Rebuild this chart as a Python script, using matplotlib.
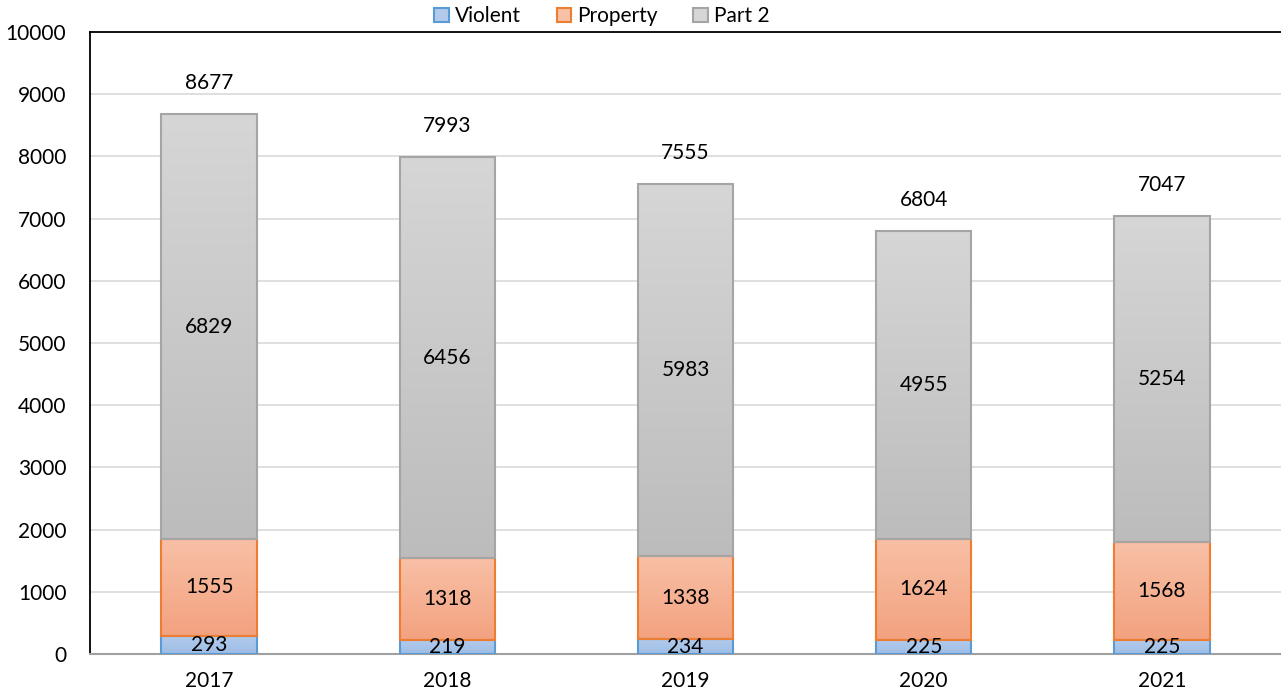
import matplotlib
matplotlib.use("Agg")
import matplotlib.pyplot as plt
import numpy as np
from matplotlib.colors import LinearSegmentedColormap

years = ["2017", "2018", "2019", "2020", "2021"]
violent = [293, 219, 234, 225, 225]
prop = [1555, 1318, 1338, 1624, 1568]
part2 = [6829, 6456, 5983, 4955, 5254]
totals = [8677, 7993, 7555, 6804, 7047]

plt.rcParams['font.family'] = ['Lato', 'DejaVu Sans']
FS = 15

fig = plt.figure(figsize=(12.81, 6.94), dpi=100)
ax = fig.add_axes([90/1281, 1-654/694, 1-90/1281, (654-32)/694])

x = np.arange(len(years))
w = 0.4
series = [
    ("Violent", violent, "#5b9bd5", ("#b3cbeb", "#9dbde6")),
    ("Property", prop, "#ed7d31", ("#f8c0a6", "#f3a27f")),
    ("Part 2", part2, "#a5a5a5", ("#d6d6d6", "#bcbcbc")),
]
bottom = np.zeros(len(years))
handles = []
for name, vals, ec, (ctop, cbot) in series:
    vals = np.array(vals, dtype=float)
    bars = ax.bar(x, vals, w, bottom=bottom, color=ctop, edgecolor=ec, linewidth=1.5, zorder=3, label=name)
    cmap = LinearSegmentedColormap.from_list(name, [cbot, ctop])
    grad = np.linspace(0, 1, 256).reshape(-1, 1)
    for b in bars:
        bx, by = b.get_x(), b.get_y()
        bw, bh = b.get_width(), b.get_height()
        im = ax.imshow(grad, extent=[bx, bx + bw, by, by + bh], origin='lower',
                       aspect='auto', cmap=cmap, zorder=3.5)
        im.set_clip_path(b)
        b.set_facecolor('none')
        b.set_zorder(4)
    for xi, v, bt in zip(x, vals, bottom):
        ax.text(xi, bt + v / 2, f"{int(v)}", ha='center', va='center', fontsize=FS, color='black', zorder=5)
    handles.append(plt.Rectangle((0, 0), 1, 1, facecolor=ctop, edgecolor=ec, linewidth=1.5))
    bottom += vals

for xi, t in zip(x, totals):
    ax.text(xi, t + 500, f"{t}", ha='center', va='center', fontsize=FS, color='black')

ax.set_xlim(-0.5, len(years) - 0.5)
ax.set_ylim(0, 10000)
ax.set_yticks(np.arange(0, 10001, 1000))
ax.set_xticks(x)
ax.set_xticklabels(years)
ax.tick_params(axis='y', length=0, pad=17, labelsize=FS)
ax.tick_params(axis='x', length=0, pad=12, labelsize=FS)
ax.grid(axis='y', color='#d9d9d9', linewidth=1.2, zorder=0)
ax.set_axisbelow(True)
ax.spines['left'].set_color('black')
ax.spines['left'].set_linewidth(1.3)
ax.spines['top'].set_color('black')
ax.spines['top'].set_linewidth(1.3)
ax.spines['right'].set_visible(False)
ax.spines['bottom'].set_color('#a0a0a0')
ax.spines['bottom'].set_linewidth(1.5)

fig.legend(handles, [s[0] for s in series], loc='upper center', bbox_to_anchor=(0.47, 1.018),
           ncol=3, frameon=False, fontsize=FS, handlelength=0.7, handleheight=0.7,
           handletextpad=0.3, columnspacing=1.7)

fig.savefig("out.png", dpi=100)
